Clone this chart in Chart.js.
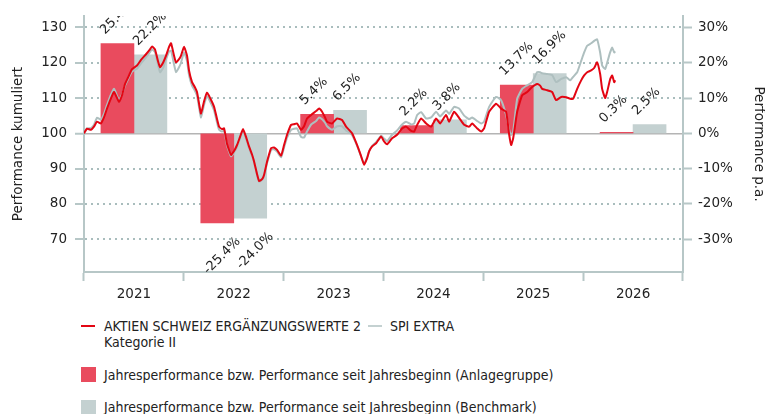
<!DOCTYPE html>
<html><head><meta charset="utf-8">
<script src="https://cdn.jsdelivr.net/npm/chart.js@4"></script>
<style>
html,body{margin:0;padding:0;background:#fff;}
body{width:765px;height:414px;overflow:hidden;position:relative;color:#222;}
#c{position:absolute;left:0;top:0;}
.lt{position:absolute;font-family:"DejaVu Sans Condensed","DejaVu Sans";font-size:14px;line-height:16px;white-space:nowrap;color:#222;}
.ls{position:absolute;}
</style></head>
<body>
<canvas id="c" width="765" height="300"></canvas>
<div id="legend"></div>
<script>
// ---- data ----
const years = ['2021','2022','2023','2024','2025','2026'];
const fundYearly  = [25.4, -25.4, 5.4, 2.2, 13.7, 0.3];
const benchYearly = [22.2, -24.0, 6.5, 3.8, 16.9, 2.5];
const leftTicks  = [70, 80, 90, 100, 110, 120, 130];
const rightTicks = [-30, -20, -10, 0, 10, 20, 30];
const fundName  = ['AKTIEN SCHWEIZ ERGÄNZUNGSWERTE 2', 'Kategorie II'];
const benchName = 'SPI EXTRA';
const barNames = ['Jahresperformance bzw. Performance seit Jahresbeginn (Anlagegruppe)',
                  'Jahresperformance bzw. Performance seit Jahresbeginn (Benchmark)'];
// dates as decimal years
const dates = [
2021.000,2021.030,2021.070,2021.100,2021.130,2021.170,2021.200,2021.230,2021.271,2021.301,
2021.351,2021.381,2021.411,2021.441,2021.481,2021.531,2021.571,2021.621,2021.661,2021.681,
2021.711,2021.741,2021.762,2021.792,2021.822,2021.852,2021.872,2021.902,2021.922,2021.952,
2021.972,2022.002,2022.032,2022.052,2022.082,2022.112,2022.132,2022.152,2022.172,2022.202,
2022.232,2022.263,2022.303,2022.333,2022.353,2022.383,2022.403,2022.433,2022.473,2022.503,
2022.533,2022.563,2022.593,2022.623,2022.653,2022.683,2022.703,2022.733,2022.754,2022.784,
2022.804,2022.834,2022.874,2022.904,2022.934,2022.974,2023.004,2023.034,2023.074,2023.104,
2023.134,2023.174,2023.204,2023.234,2023.275,2023.325,2023.355,2023.385,2023.415,2023.435,
2023.485,2023.535,2023.585,2023.625,2023.655,2023.685,2023.735,2023.776,2023.806,2023.836,
2023.856,2023.886,2023.926,2023.976,2024.006,2024.036,2024.086,2024.136,2024.186,2024.226,
2024.277,2024.307,2024.337,2024.377,2024.427,2024.477,2024.527,2024.567,2024.627,2024.657,
2024.707,2024.757,2024.808,2024.858,2024.888,2024.938,2024.978,2025.008,2025.058,2025.128,
2025.178,2025.228,2025.259,2025.279,2025.299,2025.339,2025.389,2025.439,2025.489,2025.539,
2025.569,2025.589,2025.639,2025.689,2025.729,2025.780,2025.830,2025.870,2025.900,2025.940,
2025.980,2026.010,2026.040,2026.080,2026.110,2026.140,2026.170,2026.190,2026.220,2026.240,
2026.271,2026.291,2026.311,2026.321];
const fundCum = [
100.0,101.3,101.0,101.9,103.3,102.8,104.5,107.0,110.0,111.7,
108.9,110.8,114.0,115.8,118.2,119.2,120.8,122.4,123.8,124.6,
123.8,120.5,118.7,120.0,122.0,124.5,125.5,122.0,120.1,121.0,
122.0,124.5,122.0,117.8,114.5,113.0,111.7,108.5,105.6,109.0,
111.5,110.0,107.5,104.0,101.9,101.2,101.4,97.0,93.9,95.0,
96.7,99.0,101.2,99.0,96.3,94.0,92.1,88.5,86.5,87.0,
88.3,92.0,95.8,96.0,95.3,93.7,96.7,99.6,102.4,102.6,
102.8,101.0,102.0,104.2,105.2,106.3,107.0,106.1,104.5,103.3,
102.8,104.2,103.8,101.9,101.0,100.0,96.7,93.5,91.1,93.0,
94.9,96.3,97.2,99.1,97.7,96.9,98.6,99.6,101.4,101.9,
100.7,100.5,102.4,104.2,102.8,101.9,104.2,102.8,105.2,103.3,
106.1,104.4,102.4,101.9,102.8,101.4,100.5,101.4,106.1,108.4,
107.0,106.1,99.6,96.7,98.6,106.1,110.8,111.7,113.1,114.0,
113.5,112.6,112.2,111.7,109.4,110.3,110.2,109.8,109.8,112.6,
115.0,116.4,117.3,117.8,118.5,120.1,116.8,112.6,110.0,111.7,
115.4,116.4,114.5,115.0];
const benchCum = [
100.0,101.4,101.5,102.4,104.4,103.9,105.5,108.0,111.0,112.6,
109.4,111.0,113.5,115.3,117.5,118.3,119.8,121.5,123.0,123.8,
123.0,119.5,117.3,118.5,121.0,123.2,123.4,119.5,117.3,118.7,
120.0,122.9,120.5,116.5,113.5,112.0,110.7,107.5,104.5,108.0,
110.5,109.0,106.5,103.0,101.0,100.5,100.8,96.5,93.5,94.6,
96.2,98.5,100.7,98.5,95.8,93.6,91.8,88.2,86.3,86.8,
88.0,91.6,95.3,95.5,94.8,93.2,96.0,98.8,101.0,101.3,
101.4,99.0,98.8,100.5,102.5,103.5,104.5,104.0,103.0,102.0,
101.0,102.0,102.0,100.8,100.3,99.5,96.5,93.4,91.3,93.2,
95.0,96.4,97.5,99.3,98.5,97.8,99.6,100.8,102.5,103.3,
102.5,102.8,105.2,106.0,104.2,104.5,106.1,104.8,106.5,105.5,
107.5,107.0,105.0,104.0,104.5,103.5,102.8,103.3,107.5,110.3,
109.4,105.2,101.0,99.5,100.5,109.8,112.6,113.6,114.5,117.3,
117.3,117.0,116.8,116.5,114.5,115.4,115.9,115.0,116.0,117.3,
120.5,122.9,124.8,125.5,126.2,126.6,122.9,119.2,118.2,120.0,
123.0,124.3,122.9,123.2];

// ---- styles ----
const RED_LINE = '#e30613', GREY_LINE = '#aebfbf';
const RED_BAR = '#e94b5e', GREY_BAR = '#c4d1d1';
const AXIS = '#b7c7c7', DOTS = '#a9bdbd', ZERO = '#b4b4b4', TXT = '#222';
const FONT = '"DejaVu Sans"';
const LMIN = 60.73, LMAX = 133.2;
const X0 = 2021;          // start of the time axis
const GROUP = 0.66;       // share of a year covered by the two bars

const toXY = (ys) => ys.map((v, i) => ({x: dates[i], y: v}));
// bars placed inside their year: first bar left half of group, second right half
const barXY = (vals, k) => vals.map((v, i) => ({x: X0 + i + 0.5 + (k - 0.5) * GROUP / 2, y: v}));

const barLabels = {
  id: 'barLabels',
  afterDatasetsDraw(chart) {
    const {ctx, chartArea: a} = chart;
    ctx.save();
    ctx.beginPath(); ctx.rect(a.left, a.top, a.right - a.left, a.bottom - a.top); ctx.clip();
    ctx.font = '13px ' + FONT; ctx.fillStyle = TXT;
    [2, 3].forEach(di => {
      const vals = chart.data.datasets[di].data;
      chart.getDatasetMeta(di).data.forEach((el, i) => {
        const v = vals[i].y;
        const txt = v.toFixed(1) + '%';
        const left = el.x - el.width / 2, right = el.x + el.width / 2;
        ctx.save();
        if (v >= 0) {
          ctx.translate(left + 4, Math.min(el.y, el.base) - 9);
          ctx.rotate(-Math.PI / 4);
          ctx.textAlign = 'left'; ctx.textBaseline = 'alphabetic';
        } else {
          ctx.translate(right, Math.max(el.y, el.base) + 12);
          ctx.rotate(-Math.PI / 4);
          ctx.textAlign = 'right'; ctx.textBaseline = 'top';
        }
        ctx.fillText(txt, 0, 0);
        ctx.restore();
      });
    });
    ctx.restore();
  }
};

new Chart(document.getElementById('c'), {
  data: {
    labels: years,
    datasets: [
      {type: 'line', label: fundName.join(' '), data: toXY(fundCum), xAxisID: 'xt', yAxisID: 'y',
       borderColor: RED_LINE, borderWidth: 2, pointRadius: 0, tension: 0.15, order: 0},
      {type: 'line', label: benchName, data: toXY(benchCum), xAxisID: 'xt', yAxisID: 'y',
       borderColor: GREY_LINE, borderWidth: 2, pointRadius: 0, tension: 0.15, order: 1},
      {type: 'bar', label: barNames[0], data: barXY(fundYearly, 0), xAxisID: 'xt', yAxisID: 'yr',
       backgroundColor: RED_BAR, grouped: false, barThickness: 33, order: 2},
      {type: 'bar', label: barNames[1], data: barXY(benchYearly, 1), xAxisID: 'xt', yAxisID: 'yr',
       backgroundColor: GREY_BAR, grouped: false, barThickness: 33, order: 3}
    ]
  },
  options: {
    responsive: false, animation: false, devicePixelRatio: 1,
    layout: {padding: {top: 13, left: 0, right: 0, bottom: 0}},
    plugins: {legend: {display: false}, tooltip: {enabled: false}},
    scales: {
      x: {
        type: 'category', position: 'bottom', offset: true,
        grid: {offset: true, drawOnChartArea: false, drawTicks: true, tickLength: 9, tickColor: AXIS, tickWidth: 2},
        border: {color: AXIS, width: 2},
        ticks: {color: TXT, font: {family: FONT, size: 13.5}, padding: 5},
        afterFit: s => { s.height = 28; }
      },
      xt: {type: 'linear', display: false, offset: false, min: X0, max: X0 + years.length},
      y: {
        position: 'left', min: LMIN, max: LMAX,
        afterBuildTicks: s => { s.ticks = leftTicks.map(v => ({value: v})); },
        grid: {
          color: c => (c.tick && c.tick.value === 100) ? ZERO : DOTS,
          lineWidth: c => (c.tick && c.tick.value === 100) ? 1.5 : 2,
          tickColor: AXIS, tickWidth: 2, tickLength: 9
        },
        border: {color: AXIS, width: 2, dash: c => (c.tick && c.tick.value === 100) ? [] : [2, 4]},
        ticks: {color: TXT, font: {family: FONT, size: 13.5}, padding: 8},
        title: {display: true, text: 'Performance kumuliert', color: TXT,
                font: {family: FONT, size: 13.5, lineHeight: 1.2}, padding: {top: 10, bottom: 0}},
        afterFit: s => { s.width = 84; }
      },
      yr: {
        position: 'right', min: LMIN - 100, max: LMAX - 100,
        afterBuildTicks: s => { s.ticks = rightTicks.map(v => ({value: v})); },
        grid: {drawOnChartArea: false, tickColor: AXIS, tickWidth: 2, tickLength: 9},
        border: {color: AXIS, width: 2},
        ticks: {color: TXT, font: {family: FONT, size: 13.5}, padding: 6, callback: v => v + '%'},
        title: {display: true, text: 'Performance p.a.', color: TXT,
                font: {family: FONT, size: 13.5, lineHeight: 1}, padding: {top: 0, bottom: 0}},
        afterFit: s => { s.width = 82; }
      }
    }
  },
  plugins: [barLabels]
});

// ---- legend (HTML) ----
const lg = document.getElementById('legend');
function add(cls, css, text) {
  const d = document.createElement('div'); d.className = cls; d.style.cssText = css;
  if (text !== undefined) d.innerHTML = text; lg.appendChild(d);
}
add('ls', `left:81px;top:325px;width:14px;height:2px;background:${RED_LINE}`);
add('lt', 'left:104px;top:318px', fundName.join('<br>'));
add('ls', `left:368px;top:325px;width:14px;height:2px;background:${GREY_BAR}`);
add('lt', 'left:390px;top:318px', benchName);
add('ls', `left:81px;top:367px;width:15px;height:15px;background:${RED_BAR}`);
add('lt', 'left:104px;top:367px', barNames[0]);
add('ls', `left:81px;top:400px;width:15px;height:15px;background:${GREY_BAR}`);
add('lt', 'left:104px;top:399px', barNames[1]);
</script>
</body></html>
